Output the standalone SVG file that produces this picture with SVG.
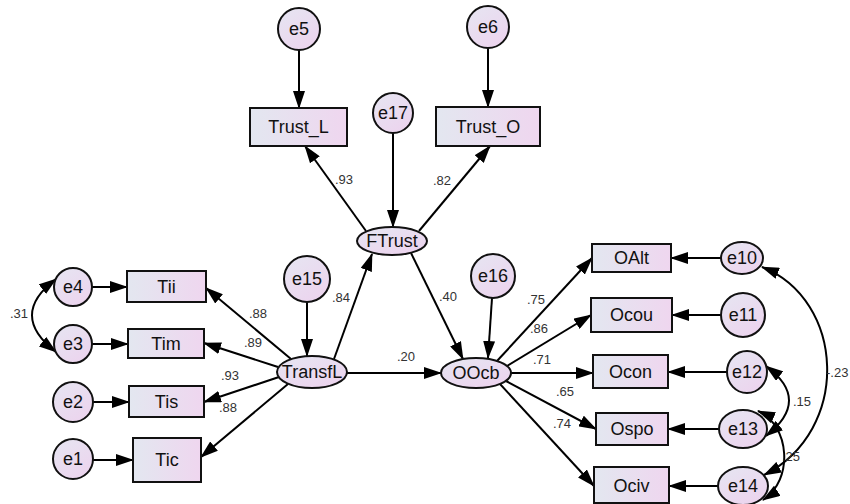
<svg xmlns="http://www.w3.org/2000/svg" width="850" height="504" viewBox="0 0 850 504">
<defs>
<linearGradient id="gr" x1="0" y1="0" x2="1" y2="0"><stop offset="0" stop-color="#e3e7f0"/><stop offset="1" stop-color="#efd6ef"/></linearGradient>
<linearGradient id="ge" x1="0" y1="0" x2="0.7" y2="1"><stop offset="0" stop-color="#e6e6f2"/><stop offset="1" stop-color="#ecd4ee"/></linearGradient>
<marker id="a" markerUnits="userSpaceOnUse" markerWidth="18" markerHeight="12" refX="17" refY="6" orient="auto"><path d="M0,0 L18,6 L0,12 z" fill="#000"/></marker>
<marker id="b" markerUnits="userSpaceOnUse" markerWidth="18" markerHeight="12" refX="17" refY="6" orient="auto-start-reverse"><path d="M0,0 L18,6 L0,12 z" fill="#000"/></marker>
</defs>
<style>
.r{fill:url(#gr);stroke:#111;stroke-width:2}
.e{fill:url(#ge);stroke:#111;stroke-width:2}
.t{font-family:"Liberation Sans",Arial,sans-serif;font-size:18px;fill:#111;text-anchor:middle}
.l{font-family:"Liberation Sans",Arial,sans-serif;font-size:13px;fill:#333;text-anchor:middle}
.c line{stroke:#000;stroke-width:2;marker-end:url(#a)}
.c path{stroke:#000;stroke-width:2;fill:none;marker-start:url(#b);marker-end:url(#b)}
</style>
<g class="c" id="connectors">
<line x1="299" y1="50" x2="299" y2="108"/>
<line x1="488" y1="48" x2="488" y2="107"/>
<line x1="393" y1="133" x2="393" y2="227"/>
<line x1="366" y1="231" x2="305" y2="146"/>
<line x1="419" y1="231" x2="490" y2="146"/>
<line x1="334" y1="359" x2="372" y2="254"/>
<line x1="411" y1="253" x2="463" y2="359"/>
<line x1="492" y1="298" x2="488" y2="358"/>
<line x1="307" y1="302" x2="307" y2="356"/>
<line x1="347" y1="373" x2="441" y2="373"/>
<line x1="291" y1="359" x2="206" y2="288"/>
<line x1="278" y1="367" x2="204" y2="343"/>
<line x1="279" y1="377" x2="204" y2="402"/>
<line x1="288" y1="384" x2="201" y2="457"/>
<line x1="92" y1="287" x2="127" y2="287"/>
<line x1="92" y1="344" x2="128" y2="344"/>
<line x1="93" y1="402" x2="129" y2="402"/>
<line x1="93" y1="460" x2="133" y2="460"/>
<line x1="497" y1="361" x2="592" y2="258"/>
<line x1="507" y1="366" x2="591" y2="315"/>
<line x1="511" y1="373" x2="593" y2="373"/>
<line x1="506" y1="381" x2="596" y2="429"/>
<line x1="500" y1="384" x2="594" y2="486"/>
<line x1="721" y1="258" x2="671" y2="258"/>
<line x1="721" y1="315" x2="672" y2="315"/>
<line x1="727" y1="372" x2="668" y2="372"/>
<line x1="719" y1="429" x2="668" y2="429"/>
<line x1="718" y1="486" x2="669" y2="486"/>
<path d="M56,279 Q8,315 56,352"/>
<path d="M766,366 Q812,400 766,436"/>
<path d="M758,411 C790,425 794,480 763,500"/>
<path d="M762,267 C845,300 852,430 764,475"/>
</g>
<g id="labels">
<text class="l" x="344" y="184">.93</text>
<text class="l" x="442" y="185">.82</text>
<text class="l" x="341" y="302">.84</text>
<text class="l" x="448" y="301">.40</text>
<text class="l" x="406" y="361">.20</text>
<text class="l" x="258" y="318">.88</text>
<text class="l" x="253" y="347">.89</text>
<text class="l" x="230" y="380">.93</text>
<text class="l" x="228" y="412">.88</text>
<text class="l" x="19" y="318">.31</text>
<text class="l" x="536" y="304">.75</text>
<text class="l" x="539" y="333">.86</text>
<text class="l" x="542" y="364">.71</text>
<text class="l" x="565" y="396">.65</text>
<text class="l" x="562" y="428">.74</text>
<text class="l" x="802" y="406">.15</text>
<text class="l" x="791" y="461">.25</text>
<text class="l" x="826" y="377" style="text-anchor:start">-.23</text>
</g>
<g id="e5"><circle class="e" cx="299" cy="29" r="21"/><text class="t" x="299" y="35">e5</text></g>
<g id="e6"><circle class="e" cx="488" cy="27" r="21"/><text class="t" x="488" y="33">e6</text></g>
<g id="e17"><circle class="e" cx="393" cy="113" r="20"/><text class="t" x="393" y="119">e17</text></g>
<g id="e15"><circle class="e" cx="307" cy="279" r="23"/><text class="t" x="307" y="285">e15</text></g>
<g id="e16"><circle class="e" cx="493" cy="276" r="22"/><text class="t" x="493" y="282">e16</text></g>
<g id="e4"><circle class="e" cx="73" cy="287" r="19"/><text class="t" x="73" y="293">e4</text></g>
<g id="e3"><circle class="e" cx="73" cy="344" r="19"/><text class="t" x="73" y="350">e3</text></g>
<g id="e2"><circle class="e" cx="73" cy="402" r="20"/><text class="t" x="73" y="408">e2</text></g>
<g id="e1"><circle class="e" cx="73" cy="459" r="20"/><text class="t" x="73" y="465">e1</text></g>
<g id="e10"><ellipse class="e" cx="742" cy="258" rx="21" ry="16"/><text class="t" x="742" y="264">e10</text></g>
<g id="e11"><circle class="e" cx="743" cy="315" r="22"/><text class="t" x="743" y="321">e11</text></g>
<g id="e12"><ellipse class="e" cx="747" cy="372" rx="20" ry="21"/><text class="t" x="747" y="378">e12</text></g>
<g id="e13"><ellipse class="e" cx="743" cy="429" rx="24" ry="19"/><text class="t" x="743" y="435">e13</text></g>
<g id="e14"><ellipse class="e" cx="743" cy="486" rx="25" ry="19"/><text class="t" x="743" y="492">e14</text></g>
<g id="Trust_L"><rect class="r" x="250" y="108" width="97" height="38"/><text class="t" x="298.5" y="133">Trust_L</text></g>
<g id="Trust_O"><rect class="r" x="436" y="107" width="104" height="39"/><text class="t" x="488" y="133">Trust_O</text></g>
<g id="Tii"><rect class="r" x="127" y="271" width="79" height="31"/><text class="t" x="166.5" y="293">Tii</text></g>
<g id="Tim"><rect class="r" x="128" y="329" width="76" height="29"/><text class="t" x="166" y="350">Tim</text></g>
<g id="Tis"><rect class="r" x="129" y="386" width="75" height="31"/><text class="t" x="166.5" y="408">Tis</text></g>
<g id="Tic"><rect class="r" x="133" y="438" width="68" height="44"/><text class="t" x="167" y="466">Tic</text></g>
<g id="OAlt"><rect class="r" x="592" y="244" width="79" height="28"/><text class="t" x="631.5" y="264">OAlt</text></g>
<g id="Ocou"><rect class="r" x="591" y="298" width="81" height="34"/><text class="t" x="631.5" y="321">Ocou</text></g>
<g id="Ocon"><rect class="r" x="593" y="355" width="75" height="33"/><text class="t" x="630.5" y="378">Ocon</text></g>
<g id="Ospo"><rect class="r" x="596" y="413" width="72" height="32"/><text class="t" x="632" y="435">Ospo</text></g>
<g id="Ociv"><rect class="r" x="594" y="467" width="75" height="36"/><text class="t" x="631.5" y="492">Ociv</text></g>
<g id="FTrust"><ellipse class="e" cx="392" cy="241" rx="35" ry="14"/><text class="t" x="392" y="247">FTrust</text></g>
<g id="TransfL"><ellipse class="e" cx="312" cy="372" rx="35" ry="16"/><text class="t" x="312" y="378">TransfL</text></g>
<g id="OOcb"><ellipse class="e" cx="476" cy="373" rx="35" ry="15"/><text class="t" x="476" y="379">OOcb</text></g>
</svg>
